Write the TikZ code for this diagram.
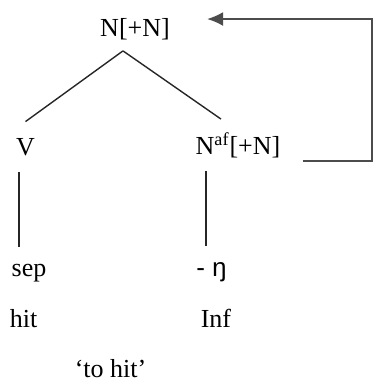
\documentclass[tikz,border=0pt]{standalone}
\usepackage{fontspec}
\setmainfont{Liberation Serif}
\newfontfamily\ipafont{Liberation Sans}
\usetikzlibrary{arrows.meta}

\tikzset{
  lbl/.style={anchor=base, inner sep=0pt, font=\fontsize{13}{15}\selectfont},
  branch/.style={line width=0.7pt, draw=black!85},
  backarrow/.style={line width=0.8pt, draw=black!70, -{Latex[length=8pt,width=7pt]}}
}

\begin{document}
\begin{tikzpicture}[x=0.5pt, y=-0.5pt]
        \useasboundingbox (0,0) rectangle (374,382);

        \node (top) [lbl] at (135,36) {N[+N]};
        \node (V) [lbl] at (25.5,155) {V};
        \node (Naf) [lbl] at (238,154) {N\textsuperscript{af}[+N]};
        \node (sep) [lbl] at (29,276) {sep};
        \node (ng) [lbl] at (211.5,276) {\ipafont - ŋ};
        \node (hit) [lbl] at (23.5,327) {hit};
        \node (Inf) [lbl] at (216,327) {Inf};
        \node (gloss) [lbl] at (110.5,377) {‘to hit’};

        % tree
        \draw[branch] ([xshift=-6pt,yshift=-5.5pt]top.south) -- ([yshift=8pt]V.north);
        \draw[branch] ([xshift=-6pt,yshift=-5.5pt]top.south) -- ([xshift=-8.5pt,yshift=6.5pt]Naf.north);
        \draw[branch] ([xshift=-3.25pt,yshift=-8pt]V.south) -- ([xshift=-5pt,yshift=8pt]sep.north);
        \draw[branch] ([xshift=-16pt,yshift=-6.5pt]Naf.south) -- ([xshift=-2.75pt,yshift=8pt]ng.north);

        % feature percolation
        \coordinate (turn) at (372,161);
        \draw[backarrow] ([xshift=11pt,yshift=-3.5pt]Naf.base east) -- (turn) |- ([xshift=18.5pt,yshift=8.5pt]top.base east);
\end{tikzpicture}
\end{document}
